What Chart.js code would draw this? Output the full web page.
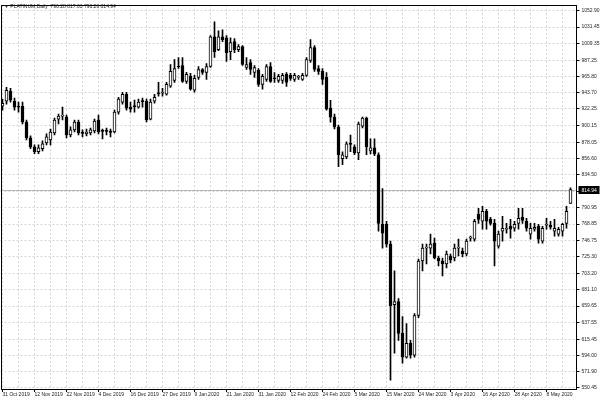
<!DOCTYPE html>
<html lang="en">
<head>
<meta charset="UTF-8">
<title>PLATINUM, Daily</title>
<script src="https://cdn.jsdelivr.net/npm/chart.js@4"></script>
<style>
  html, body { margin: 0; padding: 0; background: #fff; }
  #chart { display: block; }
</style>
</head>
<body>
<canvas id="chart" width="600" height="400"></canvas>
<script>
const symbol = 'PLATINUM,Daily';

const opens = [
  926.0, 932.6, 945.8, 932.6, 926.0, 926.0, 904.9, 883.7, 871.8, 865.2,
  869.2, 877.1, 881.1, 890.3, 908.8, 912.8, 911.5, 887.7, 894.3, 904.9,
  890.3, 889.0, 890.3, 893.0, 907.5, 893.0, 893.0, 891.6, 891.6, 918.1,
  931.3, 941.9, 924.7, 926.0, 924.7, 932.6, 932.6, 908.8, 932.6, 943.2,
  943.2, 941.9, 952.5, 960.4, 978.9, 980.2, 959.1, 965.7, 947.2, 964.3,
  974.9, 970.9, 978.9, 1018.5, 1001.4, 1018.5, 1017.2, 998.7, 1011.9, 1001.4,
  1005.3, 977.5, 984.2, 970.9, 973.6, 955.1, 961.7, 978.9, 963.0, 960.4,
  960.4, 968.3, 967.0, 961.7, 964.3, 961.7, 967.0, 986.8, 1004.0, 976.2,
  972.3, 964.3, 923.3, 911.4, 898.2, 855.9, 858.5, 875.7, 871.8, 863.8,
  899.5, 910.1, 866.5, 870.4, 861.2, 768.6, 768.6, 742.2, 661.5, 665.5,
  623.2, 591.4, 610.0, 594.1, 647.0, 719.7, 736.9, 736.9, 743.5, 723.7,
  719.7, 715.7, 726.3, 723.7, 736.9, 732.9, 729.0, 750.1, 748.8, 781.8,
  772.6, 785.8, 775.2, 769.9, 739.5, 759.4, 762.0, 766.0, 763.3, 769.9,
  777.9, 772.6, 755.4, 762.0, 766.0, 746.1, 767.3, 767.3, 759.4, 755.4,
  759.4, 769.9, 796.28
];
const highs = [
  935.2, 951.1, 949.8, 936.6, 931.3, 931.3, 907.5, 886.4, 874.5, 874.5,
  879.8, 889.0, 895.6, 910.1, 915.4, 924.7, 914.1, 898.3, 907.5, 907.5,
  894.3, 895.6, 896.9, 908.8, 914.1, 895.6, 896.9, 895.6, 920.7, 937.9,
  944.5, 944.5, 931.3, 934.0, 935.3, 936.6, 935.3, 935.3, 941.9, 957.7,
  949.8, 957.7, 981.5, 988.1, 990.8, 990.8, 971.0, 969.6, 967.0, 978.9,
  976.2, 982.8, 1019.9, 1038.4, 1026.5, 1027.8, 1019.9, 1017.2, 1015.9, 1008.0,
  1006.6, 990.8, 988.1, 980.2, 976.2, 968.3, 981.5, 984.2, 970.9, 968.3,
  969.6, 970.9, 969.6, 969.6, 967.0, 969.6, 990.8, 1014.6, 1006.6, 980.2,
  976.2, 970.9, 933.9, 915.4, 900.9, 865.2, 878.4, 887.6, 874.4, 904.8,
  911.4, 911.4, 882.3, 882.3, 863.8, 816.2, 772.6, 746.1, 706.5, 669.5,
  645.7, 636.4, 613.9, 649.6, 722.3, 742.2, 742.2, 755.4, 750.1, 726.3,
  723.7, 732.9, 729.0, 742.2, 748.8, 736.9, 748.8, 752.8, 775.2, 789.8,
  792.4, 788.5, 777.9, 775.2, 759.4, 779.2, 769.9, 775.2, 772.6, 789.8,
  789.8, 776.6, 769.9, 769.9, 768.6, 766.0, 776.6, 772.6, 775.2, 764.7,
  769.9, 792.4, 817.03
];
const lows = [
  920.7, 928.6, 931.3, 920.7, 918.1, 902.2, 881.1, 869.2, 862.6, 862.6,
  866.5, 874.5, 874.5, 887.7, 902.2, 907.5, 883.7, 885.0, 891.6, 887.7,
  885.0, 886.4, 887.7, 890.3, 889.0, 882.4, 887.7, 885.0, 890.3, 915.4,
  928.6, 920.7, 918.1, 918.1, 923.4, 924.7, 904.9, 907.5, 929.9, 939.2,
  939.2, 940.6, 951.1, 957.7, 976.2, 957.7, 956.4, 947.2, 944.5, 961.7,
  968.3, 961.7, 977.6, 990.8, 1000.0, 1011.9, 985.5, 988.1, 997.4, 998.7,
  980.2, 974.9, 968.3, 964.3, 952.4, 948.5, 959.0, 957.7, 957.7, 957.7,
  956.4, 952.4, 960.4, 959.0, 961.7, 960.4, 965.6, 984.2, 972.3, 968.3,
  955.1, 920.7, 904.8, 895.6, 845.3, 848.0, 855.9, 865.2, 861.2, 854.6,
  896.9, 861.2, 862.5, 859.9, 759.4, 736.9, 738.2, 561.0, 596.7, 613.9,
  583.5, 590.1, 590.1, 591.4, 644.3, 706.5, 715.7, 729.0, 722.3, 713.1,
  699.9, 710.4, 717.1, 719.7, 726.3, 725.0, 726.3, 746.1, 746.1, 769.9,
  762.0, 762.0, 767.3, 713.1, 736.9, 746.1, 756.7, 750.1, 759.4, 762.0,
  769.9, 759.4, 748.8, 759.4, 743.5, 743.5, 762.0, 762.0, 752.8, 752.8,
  752.8, 763.3, 796.28
];
const closes = [
  929.9, 947.1, 934.0, 924.7, 924.7, 904.9, 883.7, 871.8, 865.2, 870.5,
  875.8, 885.0, 891.6, 907.5, 912.8, 914.1, 887.7, 894.3, 904.9, 890.3,
  889.7, 891.6, 894.3, 906.2, 891.6, 892.3, 892.5, 891.0, 918.1, 935.3,
  941.9, 923.4, 922.0, 925.3, 931.3, 932.0, 907.5, 931.3, 937.9, 942.5,
  943.9, 955.1, 972.3, 976.2, 978.2, 959.1, 968.3, 948.5, 963.0, 974.9,
  970.9, 978.9, 1018.5, 998.7, 1018.5, 1014.6, 997.4, 1010.6, 1001.4, 1005.3,
  981.5, 981.5, 974.9, 977.5, 955.1, 965.6, 978.9, 959.0, 962.5, 965.6,
  967.0, 957.7, 963.0, 967.0, 964.8, 967.0, 988.1, 1004.0, 974.9, 972.3,
  961.7, 922.0, 911.4, 898.2, 861.2, 861.2, 875.7, 875.0, 863.8, 902.2,
  910.1, 871.8, 870.4, 862.5, 769.9, 756.7, 742.2, 660.2, 665.5, 623.2,
  591.4, 610.0, 594.1, 647.0, 719.7, 736.9, 737.5, 742.2, 723.7, 719.7,
  715.7, 729.0, 721.0, 736.9, 737.5, 729.0, 746.1, 750.6, 772.6, 775.2,
  785.8, 772.6, 769.9, 746.1, 755.4, 763.3, 763.3, 762.0, 768.6, 776.6,
  773.9, 763.3, 763.3, 764.7, 748.8, 763.3, 767.8, 764.7, 763.3, 762.0,
  768.6, 785.8, 814.94
];

// one date label every 8 bars
const dateLabels = [
  '31 Oct 2019', '12 Nov 2019', '22 Nov 2019', '4 Dec 2019', '16 Dec 2019',
  '27 Dec 2019', '9 Jan 2020', '21 Jan 2020', '31 Jan 2020', '12 Feb 2020',
  '24 Feb 2020', '5 Mar 2020', '15 Mar 2020', '24 Mar 2020', '3 Apr 2020',
  '16 Apr 2020', '28 Apr 2020', '8 May 2020'
];

const priceTicks = [
  1052.90, 1031.45, 1009.35, 987.25, 965.80, 943.70, 922.25, 900.15, 878.05,
  856.60, 834.50, 812.40, 790.95, 768.85, 746.75, 725.30, 703.20, 681.10,
  659.65, 637.55, 615.45, 594.00, 571.90, 550.45
];

// one spare slot after the last bar
const categories = [];
for (let i = 0; i <= opens.length; i++) {
  categories.push(i % 8 === 0 && dateLabels[i / 8] ? dateLabels[i / 8] : '');
}

const gridColor = '#d6d6d6';
const textFont = { family: 'Liberation Sans', size: 5 };
const last = closes.length - 1;

const mtDecor = {
  id: 'mtDecor',
  beforeDatasetsDraw(chart) {
    const { ctx, chartArea: a, scales: { y } } = chart;
    const py = Math.round(y.getPixelForValue(closes[last])) + 0.5;
    ctx.save();
    ctx.strokeStyle = '#b8b8b8';
    ctx.lineWidth = 1;
    ctx.beginPath();
    ctx.moveTo(a.left, py);
    ctx.lineTo(a.right, py);
    ctx.stroke();
    ctx.restore();
  },
  afterDraw(chart) {
    const { ctx, chartArea: a, scales: { y } } = chart;
    ctx.save();
    // frame
    ctx.strokeStyle = '#000';
    ctx.lineWidth = 1;
    ctx.strokeRect(Math.round(a.left) + 0.5, Math.round(a.top) + 0.5,
      Math.round(a.right - a.left) - 1, Math.round(a.bottom - a.top));

    // last price box
    const py = Math.round(y.getPixelForValue(closes[last]));
    ctx.fillStyle = '#000';
    ctx.fillRect(a.right + 2, py - 4, 21, 8);
    ctx.fillStyle = '#fff';
    ctx.font = '5px "Liberation Sans"';
    ctx.textBaseline = 'middle';
    ctx.textAlign = 'left';
    ctx.fillText(closes[last].toFixed(2), a.right + 5, py + 0.5);

    // header
    ctx.fillStyle = '#222';
    ctx.fillText('\u25BC ' + symbol + '  ' + [opens[last], highs[last], lows[last], closes[last]]
      .map(v => v.toFixed(2)).join(' '), 4, 7);
    ctx.restore();
  }
};

new Chart(document.getElementById('chart'), {
  type: 'bar',
  data: {
    labels: categories,
    datasets: [
      {
        label: 'body',
        data: opens.map((o, i) => [o, closes[i]]),
        backgroundColor: opens.map((o, i) => closes[i] >= o ? '#ffffff' : '#000000'),
        borderColor: '#000',
        borderWidth: 1,
        borderSkipped: false,
        barThickness: 3,
        minBarLength: 1,
        grouped: false,
        order: 0
      },
      {
        label: 'wick',
        data: lows.map((l, i) => [l, highs[i]]),
        backgroundColor: '#000',
        borderWidth: 0,
        barThickness: 1,
        grouped: false,
        order: 1
      }
    ]
  },
  options: {
    responsive: false,
    animation: false,
    layout: { padding: { top: 2, left: 0.5, right: 0, bottom: 0 } },
    plugins: { legend: { display: false }, tooltip: { enabled: false } },
    scales: {
      x: {
        offset: true,
        afterFit: s => { s.height = 11; },
        grid: {
          offset: false,
          color: c => c.index % 4 === 0 ? gridColor : 'rgba(0,0,0,0)',
          tickColor: c => c.index % 8 === 0 ? '#000' : 'rgba(0,0,0,0)',
          tickLength: 3
        },
        border: { display: false, dash: [2, 2] },
        ticks: {
          autoSkip: false,
          maxRotation: 0,
          align: 'start',
          padding: 0,
          color: '#222',
          font: textFont
        }
      },
      y: {
        position: 'right',
        min: 549.1,
        max: 1060.8,
        afterBuildTicks: s => { s.ticks = priceTicks.map(v => ({ value: v })); },
        afterFit: s => { s.width = 23.5; },
        grid: { color: gridColor, tickColor: '#000', tickLength: 3 },
        border: { display: false, dash: [2, 2] },
        ticks: {
          padding: 2,
          color: '#222',
          font: textFont,
          callback: v => v.toFixed(2)
        }
      }
    }
  },
  plugins: [mtDecor]
});
</script>
</body>
</html>
